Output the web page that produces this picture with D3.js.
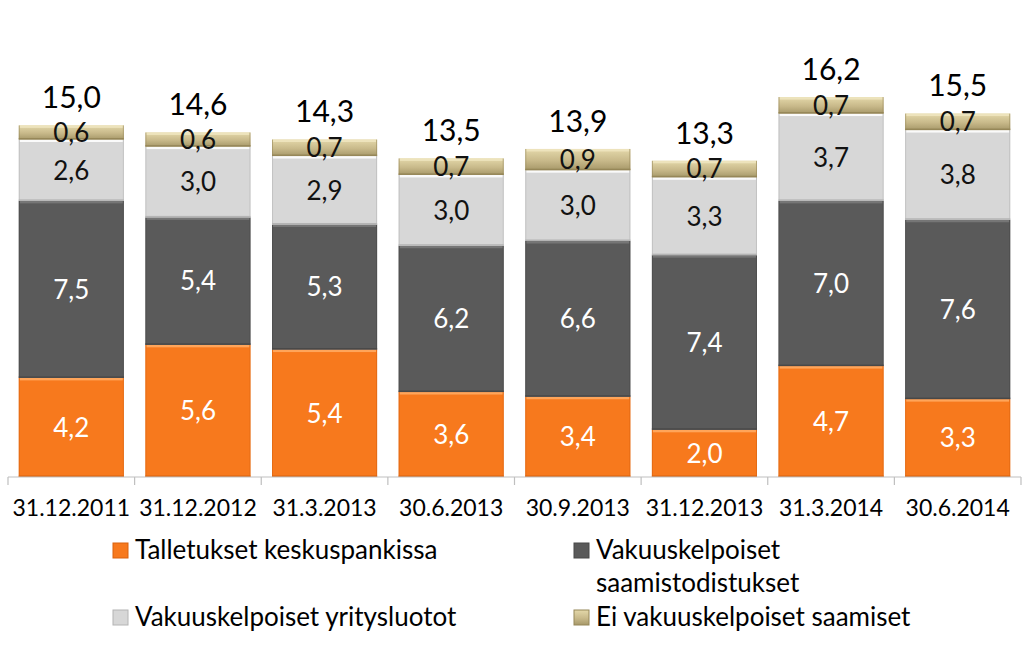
<!DOCTYPE html>
<html><head><meta charset="utf-8">
<script src="https://cdn.jsdelivr.net/npm/d3@7"></script>
<style>body{margin:0;background:#fff}svg{display:block;font-family:Lato,'Open Sans',sans-serif}</style>
</head><body><svg id="c" width="1024" height="669"></svg>
<script>
const categories = ["31.12.2011","31.12.2012","31.3.2013","30.6.2013","30.9.2013","31.12.2013","31.3.2014","30.6.2014"];
const talletukset = [4.2,5.6,5.4,3.6,3.4,2.0,4.7,3.3];
const saamistodistukset = [7.5,5.4,5.3,6.2,6.6,7.4,7.0,7.6];
const yritysluotot = [2.6,3.0,2.9,3.0,3.0,3.3,3.7,3.8];
const eiVakuus = [0.6,0.6,0.7,0.7,0.9,0.7,0.7,0.7];
const totals = [15.0,14.6,14.3,13.5,13.9,13.3,16.2,15.5];
const seriesNames = ["Talletukset keskuspankissa","Vakuuskelpoiset saamistodistukset","Vakuuskelpoiset yritysluotot","Ei vakuuskelpoiset saamiset"];

const hiColors = ["#FFA55A","#767676","#FAFAFA","#EDE3BC"];
const edgeColors = ["#D9620F","#484848","#B4B4B4","#968758"];
const labelColors = ["#fff","#fff","#111","#111"];

const svg = d3.select("#c");
const defs = svg.append("defs");
const tg = defs.append("linearGradient").attr("id","tanG").attr("x1",0).attr("y1",0).attr("x2",0).attr("y2",1);
tg.append("stop").attr("offset","0%").attr("stop-color","#E4D8AA");
tg.append("stop").attr("offset","55%").attr("stop-color","#C8B98A");
tg.append("stop").attr("offset","100%").attr("stop-color","#A69869");
const fills = ["#F7791D","#5A5A5A","#D7D7D7","url(#tanG)"];

const x = d3.scaleBand().domain(categories).range([8,1021]).paddingInner(0.17).paddingOuter(0.085);
const y = d3.scaleLinear().domain([0,20]).range([477,5]);

const rows = categories.map((c,i)=>({cat:c, s0:talletukset[i], s1:saamistodistukset[i], s2:yritysluotot[i], s3:eiVakuus[i]}));
const stack = d3.stack().keys(["s0","s1","s2","s3"])(rows);

const fmt = v => d3.format(".1f")(v).replace(".",",");

stack.forEach((layer,k)=>{
  const g = svg.append("g");
  layer.forEach((d,i)=>{
    const x0 = x(d.data.cat), w = x.bandwidth();
    const yt = y(d[1]), yb = y(d[0]);
    g.append("rect").attr("x",x0).attr("y",yt).attr("width",w).attr("height",yb-yt).attr("fill",fills[k]);
    g.append("rect").attr("x",x0+1).attr("y",yt).attr("width",w-2).attr("height",Math.min(2.5,yb-yt)).attr("fill",hiColors[k]);
    g.append("rect").attr("x",x0).attr("y",yb-1.5).attr("width",w).attr("height",1.5).attr("fill",edgeColors[k]);
    g.append("rect").attr("x",x0).attr("y",yt).attr("width",1).attr("height",yb-yt).attr("fill",edgeColors[k]).attr("opacity",0.6);
    g.append("rect").attr("x",x0+w-1).attr("y",yt).attr("width",1).attr("height",yb-yt).attr("fill",edgeColors[k]).attr("opacity",0.6);
  });
});
stack.forEach((layer,k)=>{
  layer.forEach((d,i)=>{
    const x0 = x(d.data.cat), w = x.bandwidth();
    const yt = y(d[1]), yb = y(d[0]);
    svg.append("text").attr("x",x0+w/2).attr("y",(yt+yb)/2).attr("text-anchor","middle").attr("dy","0.36em")
      .attr("font-size",26).attr("fill",labelColors[k]).text(fmt(d.data["s"+k]));
  });
});

// totals
categories.forEach((c,i)=>{
  const top = y(talletukset[i]+saamistodistukset[i]+yritysluotot[i]+eiVakuus[i]);
  svg.append("text").attr("x",x(c)+x.bandwidth()/2).attr("y",top-28).attr("text-anchor","middle").attr("dy","0.36em")
    .attr("font-size",30).attr("fill","#000").text(fmt(totals[i]));
});

// axis
const axisG = svg.append("g").attr("transform","translate(0,477)");
axisG.append("line").attr("x1",8).attr("x2",1021).attr("stroke","#BFBFBF").attr("stroke-width",1.2);
const step = x.step();
d3.range(categories.length+1).forEach(i=>{
  const xx = 8 + i*step;
  axisG.append("line").attr("x1",xx).attr("x2",xx).attr("y1",0).attr("y2",8).attr("stroke","#BFBFBF").attr("stroke-width",1.2);
});
categories.forEach(c=>{
  svg.append("text").attr("x",x(c)+x.bandwidth()/2).attr("y",508).attr("dy","0.36em").attr("text-anchor","middle")
    .attr("font-size",23).attr("fill","#000").text(c);
});

// legend
const legend = [
  {k:0,x:113,y:550,lines:["Talletukset keskuspankissa"]},
  {k:1,x:574,y:550,lines:["Vakuuskelpoiset","saamistodistukset"]},
  {k:2,x:113,y:617,lines:["Vakuuskelpoiset yritysluotot"]},
  {k:3,x:574,y:617,lines:["Ei vakuuskelpoiset saamiset"]}
];
legend.forEach(l=>{
  svg.append("rect").attr("x",l.x).attr("y",l.y-7).attr("width",15).attr("height",15).attr("fill",fills[l.k]).attr("stroke",edgeColors[l.k]).attr("stroke-width",1);
  l.lines.forEach((t,j)=>{
    svg.append("text").attr("x",l.x+22).attr("y",l.y+j*33).attr("dy","0.36em").attr("font-size",26).attr("fill","#000").text(t);
  });
});
</script></body></html>
